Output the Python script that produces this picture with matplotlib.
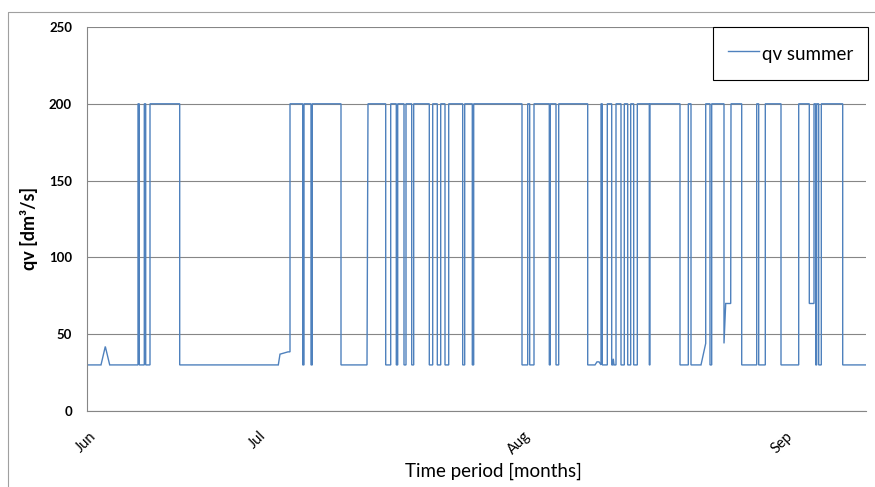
import matplotlib
matplotlib.use("Agg")
import matplotlib.pyplot as plt
from matplotlib.lines import Line2D
from matplotlib.transforms import ScaledTranslation

# ---- data (time axis in sample units) ----
t = [
    0, 14, 18.3, 22.7,
    51, 51, 52.3, 52.3,
    57.3, 57.3, 58.7, 58.7,
    63, 63, 92.7, 92.7,
    191.3, 193, 201, 203, 203,
    215.7, 215.7, 217, 217,
    224, 224, 225.3, 225.3,
    254, 254, 280, 281,
    298.7, 298.7, 303.7, 303.7,
    309.3, 309.3, 310.7, 310.7,
    317, 317, 319, 319,
    324.7, 324.7, 326.7, 326.7,
    342.3, 342.3, 345.7, 345.7,
    350.3, 350.3, 353.7, 353.7,
    358, 358, 361.7, 361.7,
    375.7, 375.7, 377.7, 377.7,
    385.3, 385.3, 386.7, 386.7,
    435, 435, 440.7, 440.7,
    442.7, 442.7, 447, 447,
    462.3, 462.3, 463.3, 463.3,
    469, 469, 471.7, 471.7,
    500.7, 500.7, 508, 510, 512, 514, 514, 515.3, 515.3,
    520.3, 520.3, 524.7, 524.7,
    525.5, 526.3, 527,
    529, 529,
    534, 534, 537.3, 537.3,
    540.7, 540.7, 543.7, 543.7,
    546.7, 546.7, 550.3, 550.3,
    562.3, 562.3, 563, 563,
    593, 593, 601.3, 601.3,
    604, 604, 614, 618.7, 618.7,
    623, 623, 624.7, 624.7,
    637, 637, 638.7, 643.7, 644,
    654.7, 654.7, 669.7, 669.7,
    671.7, 671.7, 678.3, 678.3,
    694, 694, 711.7, 711.7,
    722.3, 722.3, 727, 727,
    728.7, 728.7, 729.7, 729.7,
    731.7, 731.7, 734.3, 734.3,
    755.7, 755.7, 779,
]
qv = [
    30, 30, 42, 30,
    30, 200, 200, 30,
    30, 200, 200, 30,
    30, 200, 200, 30,
    30, 37, 38.5, 38.5, 200,
    200, 30, 30, 200,
    200, 30, 30, 200,
    200, 30, 30, 200,
    200, 30, 30, 200,
    200, 30, 30, 200,
    200, 30, 30, 200,
    200, 30, 30, 200,
    200, 30, 30, 200,
    200, 30, 30, 200,
    200, 30, 30, 200,
    200, 30, 30, 200,
    200, 30, 30, 200,
    200, 30, 30, 200,
    200, 30, 30, 200,
    200, 30, 30, 200,
    200, 30, 30, 200,
    200, 30, 30, 32, 32, 30, 200, 200, 30,
    30, 200, 200, 30,
    30, 34, 30,
    30, 200,
    200, 30, 30, 200,
    200, 30, 30, 200,
    200, 30, 30, 200,
    200, 30, 30, 200,
    200, 30, 30, 200,
    200, 30, 30, 44, 200,
    200, 30, 30, 200,
    200, 44, 70, 70, 200,
    200, 30, 30, 200,
    200, 30, 30, 200,
    200, 30, 30, 200,
    200, 70, 70, 200,
    200, 30, 30, 200,
    200, 30, 30, 200,
    200, 30, 30,
]
month_pos = [2, 172, 436, 698]
month_labels = ["Jun", "Jul", "Aug", "Sep"]
y_ticks = [0, 50, 100, 150, 200, 250]
series_name = "qv summer"

plt.rcParams['font.family'] = ['Lato', 'DejaVu Sans']

W, H = 875, 487
fig = plt.figure(figsize=(W / 100, H / 100), dpi=100)
L, R, T, B = 87, 866, 27, 411
ax = fig.add_axes([L / W, 1 - B / H, (R - L) / W, (B - T) / H])

ax.plot(t, qv, color='#4F81BD', lw=1.0, label=series_name, solid_joinstyle='miter')

ax.set_xlim(0, 779)
ax.set_ylim(0, 250)
ax.set_yticks(y_ticks)
ax.set_yticklabels([str(v) for v in y_ticks], fontweight='bold', fontsize=9.5)
ax.set_xticks(month_pos)
ax.set_xticklabels(month_labels, fontsize=10.5)
plt.setp(ax.get_xticklabels(), rotation=45, ha='right', va='top', rotation_mode='anchor')
shift = ScaledTranslation(-8 / 100, 0, fig.dpi_scale_trans)
for lab in ax.get_xticklabels():
    lab.set_transform(lab.get_transform() + shift)
ax.tick_params(axis='x', length=0, pad=13)
ax.tick_params(axis='y', length=0, pad=10.8)
ax.grid(axis='y', color='#868686', lw=0.8)
ax.set_axisbelow(True)
for s in ['top', 'right']:
    ax.spines[s].set_visible(False)
for s in ['left', 'bottom']:
    ax.spines[s].set_color('#868686')
    ax.spines[s].set_linewidth(0.8)

ax.set_ylabel("qv [dm³/s]", fontsize=13, fontweight='bold')
ax.yaxis.set_label_coords((29 - L) / (R - L), (B - 228) / (B - T))
ax.yaxis.label.set_va('center')
ax.set_xlabel("Time period [months]", fontsize=13.5)
ax.xaxis.set_label_coords((493 - L) / (R - L), (B - 471.7) / (B - T))
ax.xaxis.label.set_va('center')

leg = ax.legend(loc='upper right', bbox_to_anchor=(868 / W, 1 - 27 / H),
                bbox_transform=fig.transFigure, frameon=True, fancybox=False,
                edgecolor='black', framealpha=1, borderaxespad=0,
                borderpad=0.8, handlelength=1.65, handleheight=1.5,
                handletextpad=0.15, fontsize=13.5)
leg.get_frame().set_linewidth(0.8)

fig.add_artist(Line2D([8 / W, 8 / W, 1], [0, 1 - 12 / H, 1 - 12 / H],
                      transform=fig.transFigure, color='#A0A0A0', lw=0.8))

fig.savefig("out.png", dpi=100)
